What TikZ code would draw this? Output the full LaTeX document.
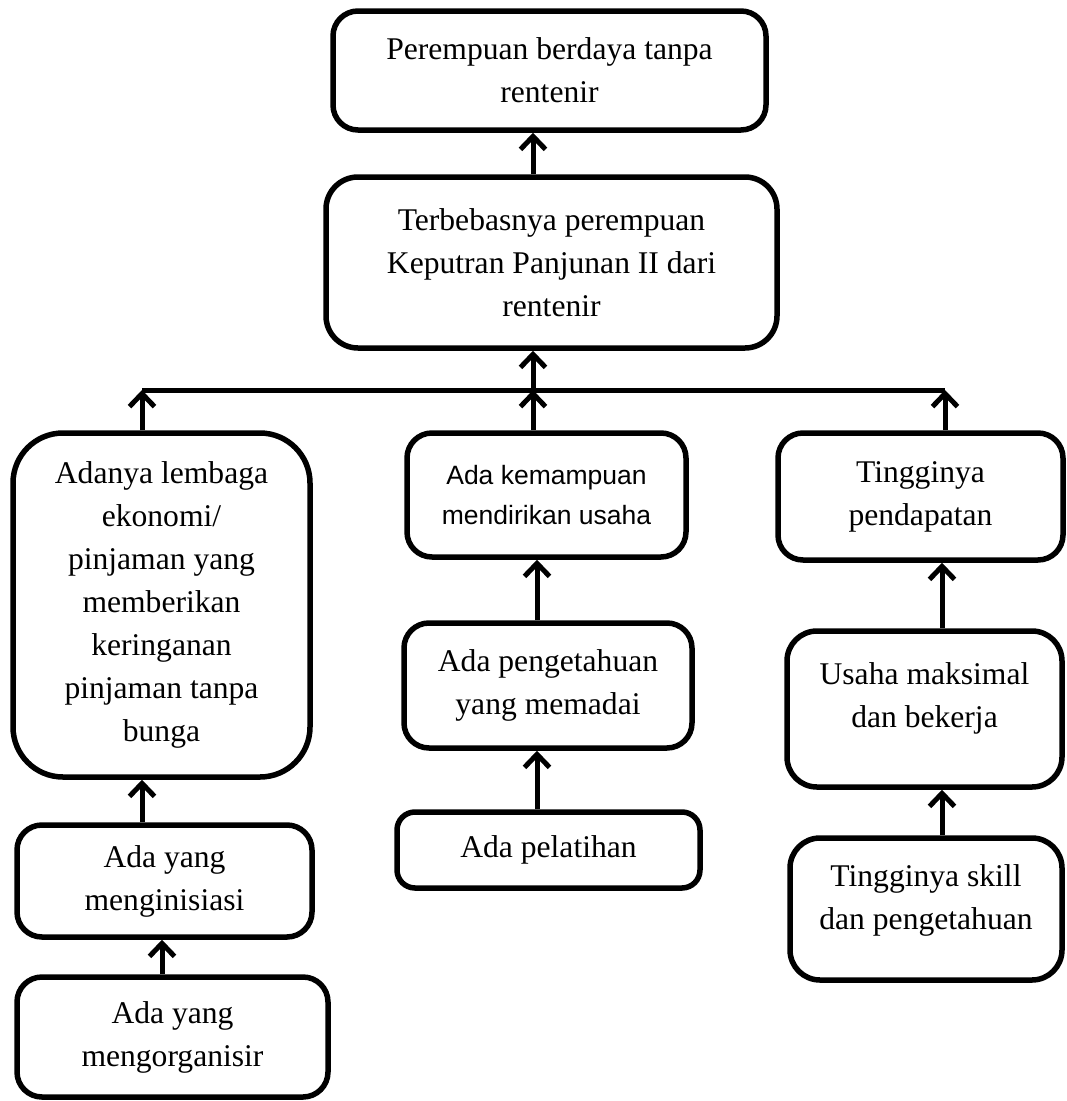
\documentclass[tikz,border=0pt]{standalone}
\usepackage{fontspec}
\setmainfont{Liberation Serif}
\newfontfamily\arialfont{Liberation Sans}
\usetikzlibrary{arrows.meta}
\begin{document}
\begin{tikzpicture}[x=1pt,y=-1pt,
  box/.style={draw, line width=5.5pt, rounded corners=25pt, inner sep=0pt, align=center,
    font=\fontsize{31.6}{43}\selectfont},
  txt/.style={inner sep=0pt, align=center, font=\fontsize{31.6}{43}\selectfont},
  arr/.style={line width=5pt, -{Straight Barb[length=13pt,width=25pt]}},
  bus/.style={line width=5pt}
  ]
\useasboundingbox (0,0) rectangle (1067,1101);
% top
\node[box, minimum width=433pt, minimum height=119pt] (B1) at (549.5,70.5) {Perempuan berdaya tanpa\\rentenir};
\node[box, rounded corners=32pt, minimum width=451pt, minimum height=171pt] (B2) at (551.5,262.5) {Terbebasnya perempuan\\Keputran Panjunan II dari\\rentenir};
% left column
\node[box, rounded corners=50pt, minimum width=297pt, minimum height=344pt] (L1) at (161.5,605) {Adanya lembaga\\ekonomi/\\pinjaman yang\\memberikan\\keringanan\\pinjaman tanpa\\bunga};
\node[box, minimum width=295pt, minimum height=112pt] (L2) at (164.5,881) {Ada yang\\menginisiasi};
\node[box, minimum width=311pt, minimum height=120pt] (L3) at (172.5,1037) {Ada yang\\mengorganisir};
% middle column
\node[box, minimum width=279pt, minimum height=124pt, font=\arialfont\fontsize{26.5}{40}\selectfont] (M1) at (546.5,495) {Ada kemampuan\\mendirikan usaha};
\node[box, minimum width=288pt, minimum height=125pt] (M2) at (548,685.5) {Ada pengetahuan\\yang memadai};
\node[box, rounded corners=18pt, minimum width=303pt, minimum height=76pt] (M3) at (548.5,850) {Ada pelatihan};
% right column
\node[box, minimum width=285pt, minimum height=127pt] (R1) at (920.5,496.5) {Tingginya\\pendapatan};
\node[box, rounded corners=30pt, minimum width=275pt, minimum height=156pt] (R2) at (924.5,709) {};
\node[txt] (tR2) at ([yshift=11pt]R2.center) {Usaha maksimal\\dan bekerja};
\node[box, rounded corners=30pt, minimum width=272pt, minimum height=142pt] (R3) at (926,909) {};
\node[txt] (tR3) at ([yshift=9pt]R3.center) {Tingginya skill\\dan pengetahuan};
% reference coordinates
\coordinate (cM) at (533,390);
\coordinate (busL) at (142,390);
\coordinate (busR) at (945,390);
\coordinate (cM2) at (537,0);
\coordinate (cL2) at (162,0);
\coordinate (cR) at (942,0);
% bus
\draw[bus] (busL) -- (busR);
% arrows
\draw[arr] (B2.north -| cM) -- (B1.south -| cM);
\draw[arr] (cM) -- (B2.south -| cM);
\draw[arr] (L1.north -| busL) -- (busL);
\draw[arr] (M1.north -| cM) -- (cM);
\draw[arr] (R1.north -| busR) -- (busR);
\draw[arr] (L2.north -| busL) -- (L1.south -| busL);
\draw[arr] (L3.north -| cL2) -- (L2.south -| cL2);
\draw[arr] (M2.north -| cM2) -- (M1.south -| cM2);
\draw[arr] (M3.north -| cM2) -- (M2.south -| cM2);
\draw[arr] (R2.north -| cR) -- (R1.south -| cR);
\draw[arr] (R3.north -| cR) -- (R2.south -| cR);
\end{tikzpicture}
\end{document}
